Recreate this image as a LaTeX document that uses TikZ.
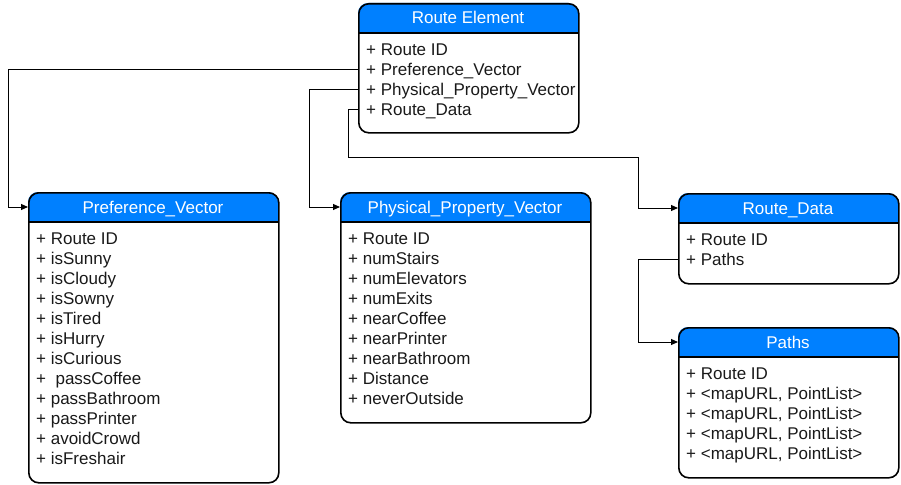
\documentclass[tikz,border=0pt]{standalone}
\usepackage{fontspec}
\setmainfont{Liberation Sans}
\usetikzlibrary{arrows.meta}
\definecolor{hdr}{RGB}{0,128,255}
\tikzset{
  box/.style={draw=black, line width=1.6pt, rounded corners=10pt, rectangle, inner sep=0pt, anchor=north west},
  ttl/.style={text=white, font=\fontsize{17}{17}\selectfont, inner sep=0pt, text height=12pt, text depth=0pt},
  row/.style={anchor=west, font=\fontsize{17}{17}\selectfont, inner sep=0pt, text height=12pt, text depth=0pt, text=black!90},
  conn/.style={line width=1pt, -{Triangle[length=7pt,width=6pt]}},
}
% #1 name, #2 x1, #3 y1, #4 x2, #5 y2, #6 header bottom, #7 title, #8 rows
\newcommand{\umlclass}[8]{%
  \path[fill=hdr] (#2,#6) [rounded corners=10pt] -- (#2,#3) -- (#4,#3) [sharp corners] -- (#4,#6) -- cycle;
  \draw[line width=1.2pt] (#2,#6) -- (#4,#6);
  \node[box, minimum width=#4pt-#2pt, minimum height=#5pt-#3pt] (#1) at (#2,#3) {};
  \node[ttl] (#1-t) at ({(#2+#4)/2},{(#3+#6)/2}) {#7};
  \foreach \rowtxt [count=\rowidx] in {#8} {
    \node[row] (#1-\rowidx) at (#2+8, #6+\rowidx*20-3.5) {+ \rowtxt};
  }
}
\begin{document}
\begin{tikzpicture}[x=1pt,y=-1pt]
\useasboundingbox (0,0) rectangle (901,484);
\umlclass{re}{358}{3}{578}{132}{33}{Route Element}{Route ID,Preference\_Vector,Physical\_Property\_Vector,Route\_Data}
\umlclass{pv}{28}{192}{278}{482}{222}{Preference\_Vector}{Route ID,isSunny,isCloudy,isSowny,isTired,isHurry,isCurious,\ passCoffee,passBathroom,passPrinter,avoidCrowd,isFreshair}
\umlclass{ppv}{340}{192}{590}{422}{222}{Physical\_Property\_Vector}{Route ID,numStairs,numElevators,numExits,nearCoffee,nearPrinter,nearBathroom,Distance,neverOutside}
\umlclass{rd}{678}{193}{898}{283}{223}{Route\_Data}{Route ID,Paths}
\umlclass{pa}{678}{327}{898}{477}{357}{Paths}{Route ID,{<mapURL, PointList>},{<mapURL, PointList>},{<mapURL, PointList>},{<mapURL, PointList>}}
\coordinate (b1) at (8,0);
\coordinate (b2) at (309,0);
\coordinate (b3) at (348,157);
\coordinate (b4) at (638,157);
\coordinate (b5) at (638,0);
\draw[conn] (re.west |- re-2) -| (b1 |- pv-t) -- (pv.west |- pv-t);
\draw[conn] (re.west |- re-3) -| (b2 |- ppv-t) -- (ppv.west |- ppv-t);
\draw[conn] (re.west |- re-4) -| (b3) -- (b4) |- (rd.west |- rd-t);
\draw[conn] (rd.west |- rd-2) -| (b5 |- pa-t) -- (pa.west |- pa-t);
\end{tikzpicture}
\end{document}
